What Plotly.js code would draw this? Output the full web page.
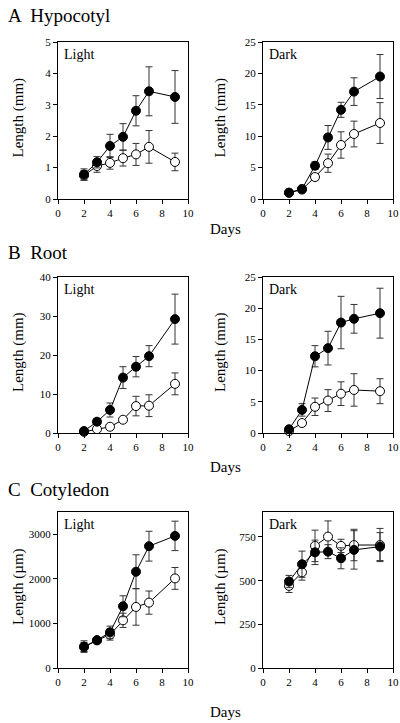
<!DOCTYPE html>
<html>
<head>
<meta charset="utf-8">
<script src="https://cdn.plot.ly/plotly-3.0.1.min.js"></script>
<style>html,body{margin:0;padding:0;background:#fff;}#chart{width:400px;height:723px;}</style>
</head>
<body>
<div id="chart"></div>
<script>
// ---- data ----
const days = [2, 3, 4, 5, 6, 7, 9];

const hypLightFilled = [0.78, 1.17, 1.69, 1.98, 2.81, 3.43, 3.25];
const hypLightFilledErr = [0.18, 0.18, 0.37, 0.42, 0.48, 0.78, 0.84];
const hypLightOpen = [0.75, 1.05, 1.15, 1.30, 1.42, 1.66, 1.18];
const hypLightOpenErr = [0.15, 0.20, 0.20, 0.25, 0.35, 0.52, 0.28];

const hypDarkFilled = [1.0, 1.6, 5.3, 9.8, 14.2, 17.1, 19.5];
const hypDarkFilledErr = [0.3, 0.4, 0.6, 1.9, 1.2, 2.2, 3.5];
const hypDarkOpen = [1.0, 1.5, 3.5, 5.7, 8.6, 10.35, 12.1];
const hypDarkOpenErr = [0.2, 0.3, 0.5, 1.45, 2.1, 2.05, 3.25];

const rootLightFilled = [0.5, 2.9, 5.9, 14.2, 17.0, 19.7, 29.2];
const rootLightFilledErr = [0.3, 0.8, 1.8, 2.8, 2.6, 2.7, 6.4];
const rootLightOpen = [0.3, 1.0, 1.6, 3.4, 6.9, 7.0, 12.6];
const rootLightOpenErr = [0.2, 0.3, 0.5, 0.5, 2.5, 2.8, 2.8];

const rootDarkFilled = [0.6, 3.7, 12.3, 13.6, 17.7, 18.3, 19.2];
const rootDarkFilledErr = [0.2, 1.0, 1.7, 2.7, 4.2, 2.3, 4.0];
const rootDarkOpen = [0.3, 1.6, 4.2, 5.2, 6.3, 6.9, 6.7];
const rootDarkOpenErr = [0.2, 0.4, 1.4, 1.75, 1.9, 2.6, 2.0];

const cotLightFilled = [480, 625, 800, 1385, 2160, 2733, 2964];
const cotLightFilledErr = [130, 60, 140, 235, 380, 335, 330];
const cotLightOpen = [470, 620, 750, 1070, 1370, 1467, 2010];
const cotLightOpenErr = [100, 50, 125, 160, 410, 260, 245];

const cotDarkFilled = [495, 594, 662, 666, 628, 676, 695];
const cotDarkFilledErr = [35, 75, 70, 40, 60, 110, 80];
const cotDarkOpen = [470, 548, 699, 752, 699, 704, 704];
const cotDarkOpenErr = [38, 45, 90, 90, 38, 90, 95];

const xTicks = [0, 2, 4, 6, 8, 10];
const rowTitles = ['A  Hypocotyl', 'B  Root', 'C  Cotyledon'];
const mmLabel = 'Length (mm)';
const umLabel = 'Length (µm)';
const xLabel = 'Days';

// ---- layout helpers ----
const W = 400, H = 723;
const fx = p => p / W;
const fy = p => 1 - p / H;
const FONT = '"Liberation Serif", "DejaVu Serif", serif';

const colX = [[58, 188], [263, 393]];
const rowY = [[42, 199], [277, 433], [512, 668]];

const panels = [
  {row: 0, col: 0, filled: hypLightFilled, fErr: hypLightFilledErr, open: hypLightOpen, oErr: hypLightOpenErr, yr: [0, 5], yt: [0,1,2,3,4,5], label: 'Light', ytitle: mmLabel},
  {row: 0, col: 1, filled: hypDarkFilled, fErr: hypDarkFilledErr, open: hypDarkOpen, oErr: hypDarkOpenErr, yr: [0, 25], yt: [0,5,10,15,20,25], label: 'Dark', ytitle: mmLabel},
  {row: 1, col: 0, filled: rootLightFilled, fErr: rootLightFilledErr, open: rootLightOpen, oErr: rootLightOpenErr, yr: [0, 40], yt: [0,10,20,30,40], label: 'Light', ytitle: mmLabel},
  {row: 1, col: 1, filled: rootDarkFilled, fErr: rootDarkFilledErr, open: rootDarkOpen, oErr: rootDarkOpenErr, yr: [0, 25], yt: [0,5,10,15,20,25], label: 'Dark', ytitle: mmLabel},
  {row: 2, col: 0, filled: cotLightFilled, fErr: cotLightFilledErr, open: cotLightOpen, oErr: cotLightOpenErr, yr: [0, 3500], yt: [0,1000,2000,3000], label: 'Light', ytitle: umLabel},
  {row: 2, col: 1, filled: cotDarkFilled, fErr: cotDarkFilledErr, open: cotDarkOpen, oErr: cotDarkOpenErr, yr: [0, 893], yt: [0,250,500,750], label: 'Dark', ytitle: umLabel}
];

const traces = [];
const layout = {
  width: W, height: H,
  margin: {l: 0, r: 0, t: 0, b: 0},
  paper_bgcolor: '#fff', plot_bgcolor: '#fff',
  showlegend: false,
  font: {family: FONT, color: '#000'},
  annotations: []
};

panels.forEach((p, i) => {
  const n = i + 1;
  const xa = 'x' + (n === 1 ? '' : n);
  const ya = 'y' + (n === 1 ? '' : n);
  const xk = 'xaxis' + (n === 1 ? '' : n);
  const yk = 'yaxis' + (n === 1 ? '' : n);
  const cx = colX[p.col], ry = rowY[p.row];
  const axCommon = {
    showgrid: false, zeroline: false, showline: true, mirror: true,
    linecolor: '#000', linewidth: 1, ticks: 'outside', ticklen: 4,
    tickcolor: '#000', tickwidth: 1,
    tickfont: {family: FONT, size: 11, color: '#000'}, fixedrange: true
  };
  layout[xk] = Object.assign({}, axCommon, {
    domain: [fx(cx[0]), fx(cx[1])], range: [0, 10], tickvals: xTicks, anchor: ya
  });
  layout[yk] = Object.assign({}, axCommon, {
    domain: [fy(ry[1]), fy(ry[0])], range: p.yr, tickvals: p.yt, anchor: xa
  });

  const errStyle = arr => ({type: 'data', array: arr, visible: true, color: '#333', thickness: 1, width: 3.5});
  traces.push({
    x: days, y: p.open, xaxis: xa, yaxis: ya, type: 'scatter', mode: 'lines+markers',
    line: {color: '#000', width: 1},
    marker: {size: 9, color: '#fff', line: {color: '#000', width: 1}},
    error_y: errStyle(p.oErr), cliponaxis: false
  });
  traces.push({
    x: days, y: p.filled, xaxis: xa, yaxis: ya, type: 'scatter', mode: 'lines+markers',
    line: {color: '#000', width: 1},
    marker: {size: 9, color: '#000', line: {color: '#000', width: 1}},
    error_y: errStyle(p.fErr), cliponaxis: false
  });

  layout.annotations.push({
    xref: 'paper', yref: 'paper', x: fx(cx[0] + 4), y: fy(ry[0] + 3),
    xanchor: 'left', yanchor: 'top', showarrow: false, text: p.label,
    font: {family: FONT, size: 14, color: '#000'}
  });
  layout.annotations.push({
    xref: 'paper', yref: 'paper', x: fx(p.col === 0 ? 18 : 220), y: fy((ry[0] + ry[1]) / 2 - 3),
    xanchor: 'center', yanchor: 'middle', showarrow: false, textangle: -90, text: p.ytitle,
    font: {family: FONT, size: 15, color: '#000'}
  });
});

const titleY = [15, 252, 489];
const daysY = [229, 467, 712];
rowTitles.forEach((t, r) => {
  layout.annotations.push({
    xref: 'paper', yref: 'paper', x: fx(6), y: fy(titleY[r]),
    xanchor: 'left', yanchor: 'middle', showarrow: false, text: t,
    font: {family: FONT, size: 19, color: '#000'}
  });
  layout.annotations.push({
    xref: 'paper', yref: 'paper', x: fx(208), y: fy(daysY[r]),
    xanchor: 'left', yanchor: 'middle', showarrow: false, text: xLabel,
    font: {family: FONT, size: 15, color: '#000'}
  });
});

Plotly.newPlot('chart', traces, layout, {displayModeBar: false, staticPlot: true});
</script>
</body>
</html>
